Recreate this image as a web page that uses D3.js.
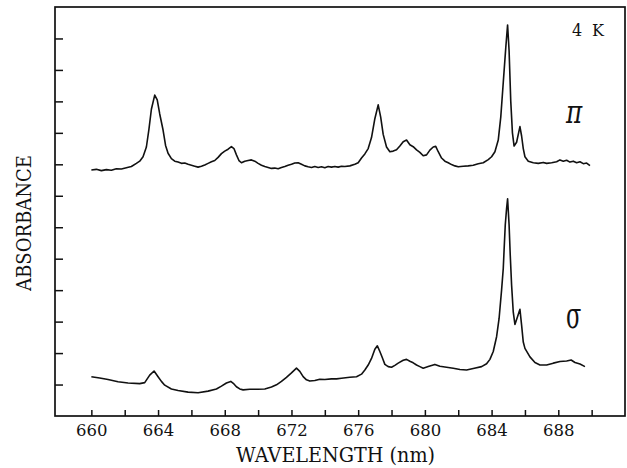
<!DOCTYPE html>
<html>
<head>
<meta charset="utf-8">
<script src="https://cdn.jsdelivr.net/npm/d3@7"></script>
<style>
  body { margin: 0; background: #fff; }
  .trace { fill: none; stroke: #111; stroke-width: 1.6px; stroke-linejoin: round; }
  text { font-family: "DejaVu Serif", serif; fill: #111; }
</style>
</head>
<body>
<div id="chart"></div>
<script>
// pi-polarised spectrum (wavelength nm, absorbance in tick units)
var piNm = [660.0,660.3,660.6,660.9,661.2,661.5,661.8,662.1,662.4,662.7,662.9,663.1,663.3,663.45,663.6,663.8,663.95,664.1,664.3,664.45,
  664.6,664.8,665.0,665.2,665.4,665.6,665.8,666.0,666.2,666.4,666.6,666.8,667.0,667.2,667.4,667.6,667.8,668.0,668.2,668.4,
  668.55,668.7,668.85,669.0,669.2,669.4,669.6,669.8,670.0,670.2,670.4,670.6,670.8,671.0,671.2,671.4,671.6,671.8,672.0,672.2,
  672.4,672.6,672.8,673.0,673.2,673.4,673.6,673.8,674.0,674.2,674.4,674.6,674.8,675.0,675.2,675.5,675.8,676.0,676.2,676.4,
  676.6,676.8,677.0,677.2,677.35,677.5,677.7,677.9,678.1,678.3,678.5,678.7,678.9,679.1,679.3,679.5,679.7,679.9,680.1,680.3,
  680.5,680.65,680.8,681.0,681.2,681.4,681.6,681.8,682.0,682.3,682.6,682.9,683.2,683.5,683.8,684.0,684.2,684.4,684.55,684.7,
  684.85,684.96,685.05,685.15,685.25,685.35,685.5,685.7,685.8,685.9,686.0,686.2,686.5,686.8,687.1,687.3,687.6,687.9,688.1,688.3,
  688.5,688.7,688.9,689.1,689.3,689.5,689.7,689.9];
var piAbs = [7.82,7.84,7.80,7.83,7.81,7.86,7.85,7.89,7.93,8.03,8.10,8.24,8.55,9.10,9.75,10.20,10.05,9.60,9.09,8.60,
  8.35,8.18,8.10,8.07,8.03,8.04,8.00,7.97,7.94,7.91,7.94,7.98,8.03,8.08,8.12,8.22,8.34,8.42,8.48,8.56,
  8.50,8.30,8.12,8.05,8.10,8.12,8.14,8.10,8.03,7.97,7.93,7.90,7.87,7.88,7.86,7.90,7.93,7.97,8.00,8.04,
  8.05,8.00,7.95,7.92,7.90,7.93,7.90,7.92,7.89,7.93,7.91,7.93,7.91,7.94,7.93,7.95,8.00,8.05,8.20,8.33,
  8.50,8.85,9.45,9.89,9.50,8.95,8.55,8.40,8.42,8.46,8.58,8.72,8.77,8.62,8.56,8.46,8.38,8.27,8.30,8.45,
  8.55,8.57,8.40,8.20,8.10,8.05,7.99,7.95,7.92,7.94,7.95,7.97,8.02,8.05,8.15,8.24,8.40,8.77,9.50,10.60,
  11.70,12.43,11.60,10.00,9.00,8.58,8.70,9.20,8.90,8.50,8.24,8.10,8.05,8.03,8.06,8.03,8.05,8.08,8.14,8.10,
  8.13,8.07,8.10,8.05,8.08,8.02,8.04,7.96];

// sigma-polarised spectrum
var sigmaNm = [660.0,660.5,661.0,661.6,662.2,662.9,663.2,663.5,663.76,664.0,664.2,664.4,664.8,665.2,665.8,666.4,667.0,667.5,667.8,668.1,
  668.36,668.55,668.7,668.9,669.1,669.5,670.0,670.4,670.8,671.1,671.4,671.7,672.0,672.3,672.5,672.7,672.9,673.1,673.4,673.7,
  674.0,674.4,674.7,675.0,675.5,675.9,676.2,676.4,676.6,676.8,677.0,677.15,677.3,677.45,677.6,677.8,678.0,678.2,678.4,678.7,
  678.9,679.1,679.3,679.5,679.7,679.9,680.2,680.6,680.9,681.3,681.7,682.1,682.5,682.9,683.4,683.7,683.9,684.1,684.3,684.45,
  684.6,684.7,684.75,684.82,684.9,684.96,685.05,685.12,685.2,685.3,685.4,685.55,685.7,685.8,685.9,686.0,686.3,686.6,686.9,687.3,
  687.7,688.1,688.5,688.77,689.0,689.3,689.6];
var sigmaAbs = [1.25,1.21,1.16,1.09,1.05,1.03,1.06,1.30,1.43,1.25,1.10,0.98,0.86,0.81,0.76,0.74,0.79,0.86,0.95,1.05,
  1.10,1.02,0.93,0.86,0.83,0.85,0.85,0.86,0.92,0.99,1.10,1.23,1.37,1.52,1.42,1.25,1.15,1.11,1.13,1.17,
  1.16,1.18,1.18,1.20,1.23,1.25,1.33,1.46,1.62,1.83,2.12,2.23,2.05,1.85,1.64,1.57,1.55,1.61,1.68,1.77,
  1.80,1.74,1.69,1.62,1.57,1.52,1.57,1.64,1.58,1.55,1.52,1.48,1.46,1.51,1.57,1.66,1.80,2.05,2.52,3.10,
  4.01,4.69,5.28,6.07,6.60,6.90,6.07,5.10,4.16,3.30,2.91,3.15,3.39,2.89,2.35,2.15,1.88,1.70,1.62,1.62,
  1.68,1.73,1.75,1.78,1.70,1.65,1.57];

var xTicks = d3.range(660, 691, 2);
var yTicks = d3.range(1, 13);

var margin = {top: 7, right: 2, bottom: 52, left: 55},
    width = 627 - margin.left - margin.right,
    height = 468 - margin.top - margin.bottom;

var svg = d3.select("#chart").append("svg")
    .attr("width", 627)
    .attr("height", 468)
  .append("g")
    .attr("transform", "translate(" + margin.left + "," + margin.top + ")");

var x = d3.scaleLinear().domain([657.82, 692.0]).range([0, width]);
var y = d3.scaleLinear().domain([0, 13]).range([height, 0]);

// frame
svg.append("rect")
    .attr("width", width).attr("height", height)
    .attr("fill", "none").attr("stroke", "#111").attr("stroke-width", 1.7);

// bottom axis, ticks point inward
var xAxis = svg.append("g")
    .attr("transform", "translate(0," + height + ")")
    .call(d3.axisBottom(x).tickValues(xTicks).tickSize(-6).tickPadding(8)
      .tickFormat(function(d) { return (d % 4 === 0 && d < 690) ? d : ""; }));
xAxis.select(".domain").remove();
xAxis.selectAll("line").attr("stroke", "#111").attr("stroke-width", 1.5);
xAxis.selectAll("text").attr("font-family", "DejaVu Serif").attr("font-size", 16.5).attr("fill", "#111");

// left axis
var yAxis = svg.append("g")
    .call(d3.axisLeft(y).tickValues(yTicks).tickSize(-8).tickFormat(""));
yAxis.select(".domain").remove();
yAxis.selectAll("line").attr("stroke", "#111").attr("stroke-width", 1.5);

// traces
function makeLine(xs, ys) {
  return d3.line()
    .x(function(d, i) { return x(xs[i]); })
    .y(function(d, i) { return y(ys[i]); })(xs);
}
svg.append("path").attr("class", "trace").attr("d", makeLine(piNm, piAbs));
svg.append("path").attr("class", "trace").attr("d", makeLine(sigmaNm, sigmaAbs));

// labels
svg.append("text")
    .attr("x", (236 + 435) / 2 - margin.left).attr("y", 461.5 - margin.top)
    .attr("text-anchor", "middle").attr("font-size", 19.5)
    .attr("textLength", 199).attr("lengthAdjust", "spacingAndGlyphs")
    .text("WAVELENGTH (nm)");

svg.append("text")
    .attr("transform", "translate(" + (31 - margin.left) + "," + (223 - margin.top) + ") rotate(-90)")
    .attr("text-anchor", "middle").attr("font-size", 20)
    .attr("textLength", 136).attr("lengthAdjust", "spacingAndGlyphs")
    .text("ABSORBANCE");

svg.append("text")
    .attr("x", 572 - margin.left).attr("y", 36 - margin.top)
    .attr("font-size", 16)
    .attr("textLength", 32).attr("lengthAdjust", "spacing")
    .text("4 K");

svg.append("text")
    .attr("transform", "translate(" + (566 - margin.left) + "," + (123 - margin.top) + ") scale(0.95,1.25)")
    .attr("font-family", "Liberation Serif").attr("font-style", "italic").attr("font-size", 26)
    .text("π");

svg.append("text")
    .attr("transform", "translate(" + (566 - margin.left) + "," + (328 - margin.top) + ") scale(0.8,1.3)")
    .attr("font-family", "Liberation Serif").attr("font-size", 28)
    .text("σ");
</script>
</body>
</html>
